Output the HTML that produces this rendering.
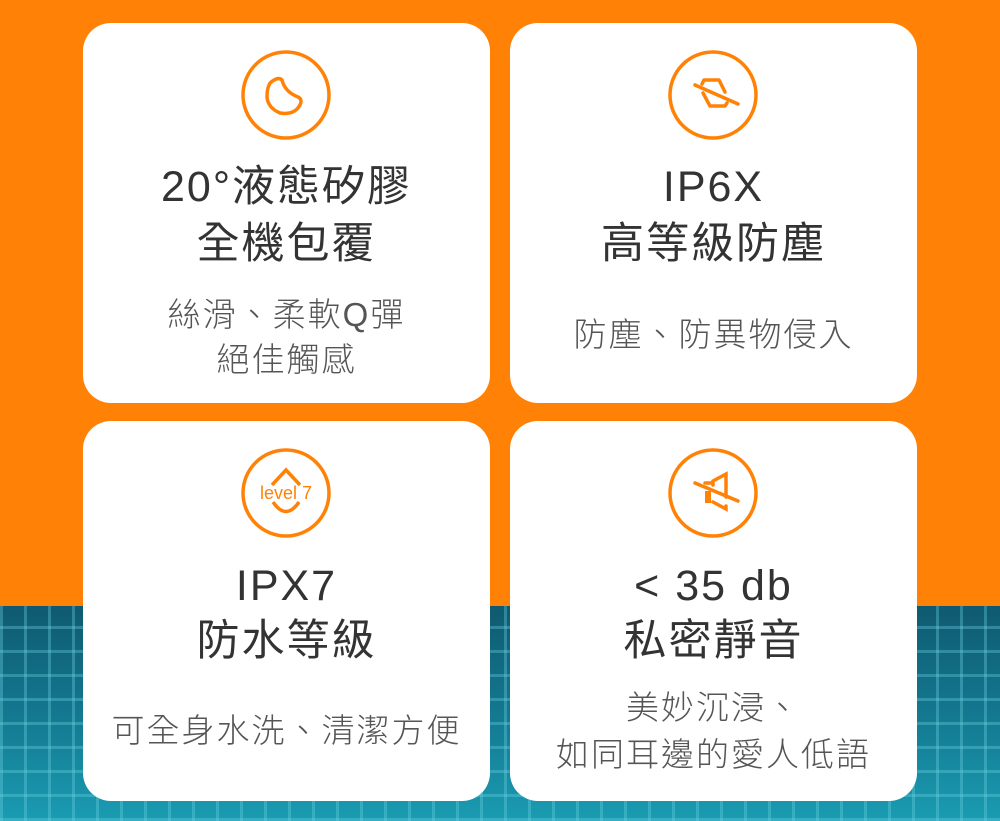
<!DOCTYPE html>
<html><head><meta charset="utf-8"><style>
*{margin:0;padding:0;box-sizing:border-box}
body{width:1000px;height:821px;position:relative;overflow:hidden;background:#FF8207;font-family:"Liberation Sans","Noto Sans CJK TC",sans-serif}
.pool{position:absolute;left:0;top:606px;width:1000px;height:215px;
background:
repeating-linear-gradient(90deg,rgba(110,210,225,.35) 0 3px,transparent 3px 24px),
repeating-linear-gradient(0deg,rgba(110,210,225,.35) 0 3px,transparent 3px 24px),
linear-gradient(180deg,#0f5a70 0%,#137890 50%,#1a9cb2 100%)}
.card{position:absolute;background:#fff;border-radius:28px;width:407px;height:380px}
.t{position:absolute;left:0;width:407px;text-align:center;white-space:nowrap}
.h{font-size:43px;color:#333;line-height:50px;letter-spacing:2px}
.s{font-size:33px;color:#555;line-height:40px;font-weight:300;letter-spacing:2px}
svg{position:absolute}
</style></head><body>
<div class="pool"></div>

<div class="card" style="left:83px;top:23px">
<svg style="left:157px;top:26px" width="92" height="92" viewBox="0 0 92 92"><circle cx="46" cy="46" r="43" fill="none" stroke="#FF8207" stroke-width="3.5"/>
<path d="M30 34 Q38 27 42 31 Q45 43 58 48 Q64 51 58 59 Q52 66 40 64 Q28 59 27 48 Q27 39 30 34Z" fill="none" stroke="#FF8207" stroke-width="3.5" stroke-linejoin="round"/></svg>
<div class="t h" style="top:139px">20°液態矽膠</div>
<div class="t h" style="top:196px">全機包覆</div>
<div class="t s" style="top:272px">絲滑、柔軟Q彈</div>
<div class="t s" style="top:317px">絕佳觸感</div>
</div>

<div class="card" style="left:510px;top:23px">
<svg style="left:157px;top:26px" width="92" height="92" viewBox="0 0 92 92"><circle cx="46" cy="46" r="43" fill="none" stroke="#FF8207" stroke-width="3.5"/>
<path d="M28 36 L71 55 M35 35 L37 31 L52 31 L58 43 M36 44 L43 57 L58 57 L60 54" fill="none" stroke="#FF8207" stroke-width="3.5" stroke-linecap="round" stroke-linejoin="round"/></svg>
<div class="t h" style="top:139px">IP6X</div>
<div class="t h" style="top:196px">高等級防塵</div>
<div class="t s" style="top:292px">防塵、防異物侵入</div>
</div>

<div class="card" style="left:83px;top:421px">
<svg style="left:157px;top:26px" width="92" height="92" viewBox="0 0 92 92"><circle cx="46" cy="46" r="43" fill="none" stroke="#FF8207" stroke-width="3.5"/>
<path d="M32 38 L46 23 L60 38 M33 55 Q46 74 59 55" fill="none" stroke="#FF8207" stroke-width="3.5"/>
<text x="46" y="52" text-anchor="middle" font-size="18" fill="#FF8207" font-family="Liberation Sans">level 7</text></svg>
<div class="t h" style="top:140px">IPX7</div>
<div class="t h" style="top:195px">防水等級</div>
<div class="t s" style="top:290px">可全身水洗、清潔方便</div>
</div>

<div class="card" style="left:510px;top:421px">
<svg style="left:157px;top:26px" width="92" height="92" viewBox="0 0 92 92"><circle cx="46" cy="46" r="43" fill="none" stroke="#FF8207" stroke-width="3.5"/>
<path d="M28 36 L71 54 M38 36 L45 36 M46 38 L46 34 L59 27 L59 50 M46 55 L59 62 L59 59" fill="none" stroke="#FF8207" stroke-width="3.5" stroke-linecap="round"/>
<rect x="38" y="44" width="6" height="12" fill="#FF8207"/></svg>
<div class="t h" style="top:140px">&lt; 35 db</div>
<div class="t h" style="top:195px">私密靜音</div>
<div class="t s" style="top:267px">美妙沉浸、</div>
<div class="t s" style="top:314px">如同耳邊的愛人低語</div>
</div>
</body></html>
